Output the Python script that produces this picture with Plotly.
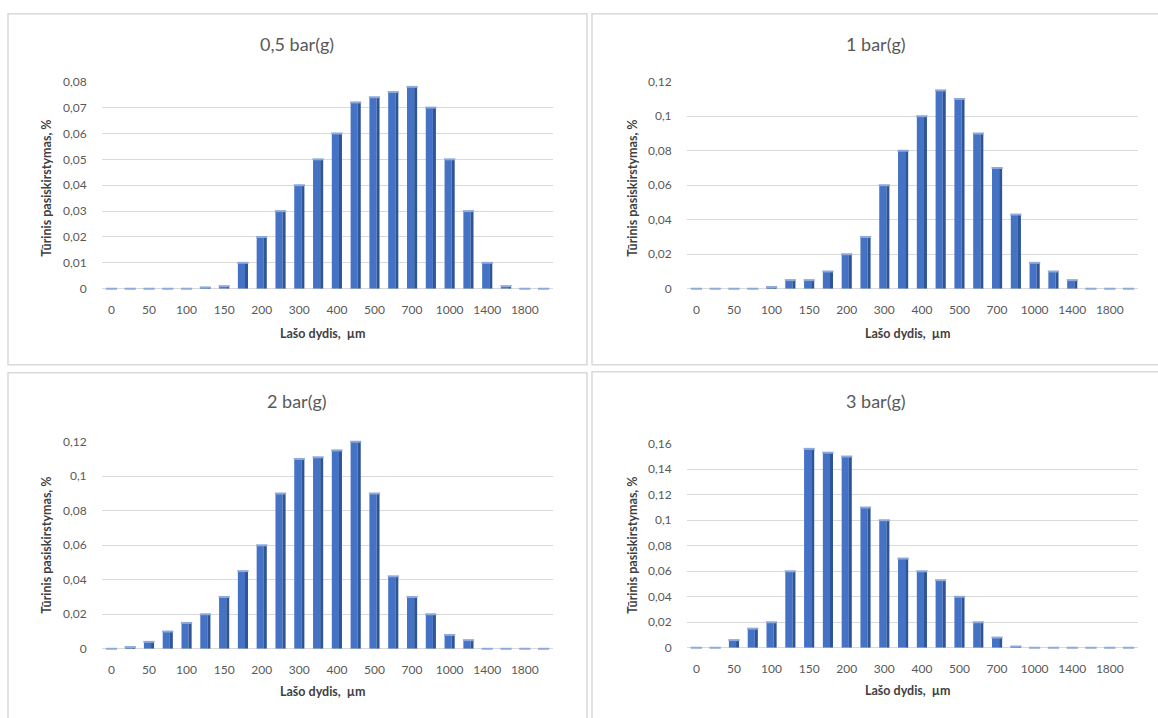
import plotly.graph_objects as go

# ---------------- data ----------------
categories = ["0", "25", "50", "75", "100", "125", "150", "175", "200", "250", "300", "350",
              "400", "450", "500", "600", "700", "850", "1000", "1200", "1400", "1600", "1800", "2000"]
tick_labels = ["0", "50", "100", "150", "200", "300", "400", "500", "700", "1000", "1400", "1800"]

titles = ["0,5 bar(g)", "1 bar(g)", "2 bar(g)", "3 bar(g)"]

vals_05 = [0, 0, 0, 0, 0, 0.0005, 0.001, 0.01, 0.02, 0.03, 0.04, 0.05,
           0.06, 0.072, 0.074, 0.076, 0.078, 0.07, 0.05, 0.03, 0.01, 0.001, 0, 0]
vals_1 = [0, 0, 0, 0, 0.001, 0.005, 0.005, 0.01, 0.02, 0.03, 0.06, 0.08,
          0.10, 0.115, 0.11, 0.09, 0.07, 0.043, 0.015, 0.01, 0.005, 0, 0, 0]
vals_2 = [0, 0.001, 0.004, 0.01, 0.015, 0.02, 0.03, 0.045, 0.06, 0.09, 0.11, 0.111,
          0.115, 0.12, 0.09, 0.042, 0.03, 0.02, 0.008, 0.005, 0, 0, 0, 0]
vals_3 = [0, 0, 0.006, 0.015, 0.02, 0.06, 0.156, 0.153, 0.15, 0.11, 0.10, 0.07,
          0.06, 0.053, 0.04, 0.02, 0.008, 0.001, 0, 0, 0, 0, 0, 0]

y_ticks_05 = [0, 0.01, 0.02, 0.03, 0.04, 0.05, 0.06, 0.07, 0.08]
y_text_05 = ["0", "0,01", "0,02", "0,03", "0,04", "0,05", "0,06", "0,07", "0,08"]
y_ticks_12 = [0, 0.02, 0.04, 0.06, 0.08, 0.10, 0.12]
y_text_12 = ["0", "0,02", "0,04", "0,06", "0,08", "0,1", "0,12"]
y_ticks_16 = [0, 0.02, 0.04, 0.06, 0.08, 0.10, 0.12, 0.14, 0.16]
y_text_16 = ["0", "0,02", "0,04", "0,06", "0,08", "0,1", "0,12", "0,14", "0,16"]

y_title = "Tūrinis pasiskirstymas, %"
x_title = "Lašo dydis,  µm"

# ---------------- layout helpers ----------------
W, H = 1158, 718
def fx(px):
    return px / W
def fy(py):
    # vertical pixel -> paper fraction, with a small calibration to the screenshot
    py = (py - 7.3) / 0.979
    return 1 - py / H

FONT = "Lato, 'Open Sans', sans-serif"
GREY = "#595959"
CAP = "#8EAADB"

panels = [
    dict(vals=vals_05, yt=y_ticks_05, ytt=y_text_05, yr=0.08, x=(102, 553), y=(81, 288),
         title=(297, 43), ytitle=(47, 188), xtitle=(323, 333), box=(8, 13, 587, 364)),
    dict(vals=vals_1, yt=y_ticks_12, ytt=y_text_12, yr=0.12, x=(687, 1138), y=(81, 288),
         title=(876, 43), ytitle=(633, 188), xtitle=(908, 333), box=(592, 13, 1170, 364)),
    dict(vals=vals_2, yt=y_ticks_12, ytt=y_text_12, yr=0.12, x=(102, 553), y=(441, 648),
         title=(297, 400), ytitle=(47, 545), xtitle=(323, 691), box=(8, 372, 587, 740)),
    dict(vals=vals_3, yt=y_ticks_16, ytt=y_text_16, yr=0.16, x=(687, 1138), y=(443, 647),
         title=(876, 400), ytitle=(633, 545), xtitle=(908, 690), box=(592, 371, 1170, 740)),
]

fig = go.Figure()
layout = dict(
    width=W, height=H,
    margin=dict(l=0, r=0, t=0, b=0),
    paper_bgcolor="white", plot_bgcolor="white",
    showlegend=False, barmode="overlay",
    font=dict(family=FONT, color=GREY, size=12),
    annotations=[], shapes=[],
)

for i, p in enumerate(panels):
    n = "" if i == 0 else str(i + 1)
    xa, ya = "x" + n, "y" + n
    # front face
    fig.add_trace(go.Bar(x=categories, y=p["vals"], xaxis=xa, yaxis=ya,
                         width=0.38, offset=-0.27,
                         marker=dict(color="#4472C4", line=dict(width=0))))
    # darker side face
    fig.add_trace(go.Bar(x=categories, y=p["vals"], xaxis=xa, yaxis=ya,
                         width=0.16, offset=0.11,
                         marker=dict(color="#2F5597", line=dict(width=0))))
    # light top caps (visible as dashes for zero values)
    fig.add_trace(go.Scatter(x=categories, y=p["vals"], xaxis=xa, yaxis=ya, mode="markers",
                             marker=dict(symbol="line-ew", size=8, color=CAP,
                                         line=dict(color=CAP, width=2)),
                             hoverinfo="skip", cliponaxis=False))
    layout["xaxis" + n] = dict(
        domain=[fx(p["x"][0]), fx(p["x"][1])], anchor=ya,
        type="category", categoryorder="array", categoryarray=categories,
        range=[-0.5, len(categories) - 0.5],
        tickmode="array", tickvals=tick_labels, ticktext=tick_labels,
        ticks="outside", ticklen=10, tickcolor="rgba(0,0,0,0)",
        showline=False, showgrid=False, zeroline=False,
        tickfont=dict(size=12, color=GREY, family=FONT), fixedrange=True,
    )
    layout["yaxis" + n] = dict(
        domain=[fy(p["y"][1]), fy(p["y"][0])], anchor=xa,
        range=[0, p["yr"]], tickmode="array", tickvals=p["yt"], ticktext=p["ytt"],
        ticks="outside", ticklen=12, tickcolor="rgba(0,0,0,0)",
        showgrid=True, gridcolor="#D9D9D9", gridwidth=1,
        zeroline=True, zerolinecolor="#D9D9D9", zerolinewidth=1,
        showline=False, tickfont=dict(size=12, color=GREY, family=FONT), fixedrange=True,
    )
    # panel title
    layout["annotations"].append(dict(
        text=titles[i], x=fx(p["title"][0]), y=fy(p["title"][1]), xref="paper", yref="paper",
        xanchor="center", yanchor="middle", showarrow=False,
        font=dict(size=18, color=GREY, family=FONT)))
    # y-axis title
    layout["annotations"].append(dict(
        text="<b>" + y_title + "</b>", x=fx(p["ytitle"][0]), y=fy(p["ytitle"][1]),
        xref="paper", yref="paper", xanchor="center", yanchor="middle", showarrow=False,
        textangle=-90, font=dict(size=12.5, color="#404040", family=FONT)))
    # x-axis title
    layout["annotations"].append(dict(
        text="<b>" + x_title + "</b>", x=fx(p["xtitle"][0]), y=fy(p["xtitle"][1]),
        xref="paper", yref="paper", xanchor="center", yanchor="middle", showarrow=False,
        font=dict(size=12.5, color="#404040", family=FONT)))
    # panel border
    b = p["box"]
    layout["shapes"].append(dict(
        type="rect", xref="paper", yref="paper",
        x0=fx(b[0]), x1=fx(b[2]), y0=fy(b[3]), y1=fy(b[1]),
        line=dict(color="#D9D9D9", width=1.5), fillcolor="rgba(0,0,0,0)", layer="below"))

fig.update_layout(**layout)
fig.write_html(
    "out.html",
    config={"displayModeBar": False},
    post_script="document.body.style.margin='0';document.body.style.overflow='hidden';",
)
